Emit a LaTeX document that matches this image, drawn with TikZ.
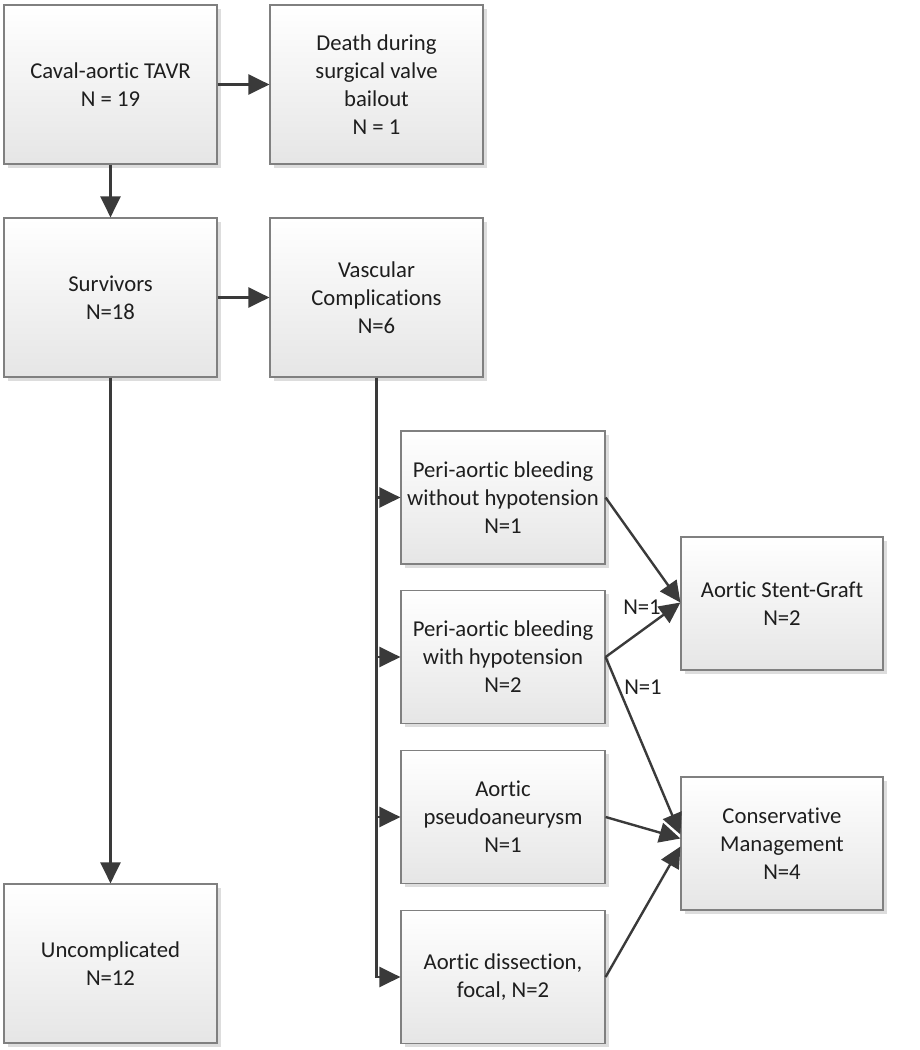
\documentclass[tikz,border=0pt]{standalone}
\usepackage{fontspec}
\setmainfont{Carlito}[Ligatures={NoCommon}]
\usetikzlibrary{arrows.meta,shadows,positioning}
\definecolor{txt}{HTML}{1E1E1E}
\definecolor{edge}{HTML}{808080}
\definecolor{arrc}{HTML}{3A3A3A}
\tikzset{
  box/.style={draw=edge, line width=1.2pt, top color=white, bottom color=black!10,
    drop shadow={shadow xshift=3.5pt, shadow yshift=-3.5pt, fill=black!22, opacity=0.6},
    align=center, text=txt, font=\fontsize{22.7}{28}\selectfont, inner sep=0pt},
  big/.style={box, minimum width=213pt, minimum height=159pt},
  sub/.style={box, minimum width=204pt, minimum height=133pt},
  res/.style={box, minimum width=202pt, minimum height=133pt},
  arr/.style={draw=arrc, line width=2.4pt, -{Triangle[length=21pt,width=20pt]}},
  lbl/.style={text=txt, font=\fontsize{22.7}{26}\selectfont, inner sep=0pt}
}
\begin{document}
\begin{tikzpicture}[x=1pt,y=-1pt]
\useasboundingbox (0,0) rectangle (919,1050);
\node[big] (b1) at (110.5,84.5) {Caval-aortic TAVR\\N = 19};
\node[big] (b2) at (376.5,84.5) {Death during\\surgical valve\\bailout\\N = 1};
\node[big] (b3) at (110.5,297.5) {Survivors\\N=18};
\node[big] (b4) at (376.5,297.5) {Vascular\\Complications\\N=6};
\node[big] (b5) at (110.5,963.5) {Uncomplicated\\N=12};
\node[sub] (sA) at (503,497.5) {Peri-aortic bleeding\\without hypotension\\N=1};
\node[sub] (sB) at (503,657) {Peri-aortic bleeding\\with hypotension\\N=2};
\node[sub] (sC) at (503,817) {Aortic\\pseudoaneurysm\\N=1};
\node[sub] (sD) at (503,977) {Aortic dissection,\\focal, N=2};
\node[res] (st) at (782,603.5) {Aortic Stent-Graft\\N=2};
\node[res] (cm) at (782,843.5) {Conservative\\Management\\N=4};

\draw[arr] (b1) -- (b2);
\draw[arr] (b1) -- (b3);
\draw[arr] (b3) -- (b4);
\draw[arr] (b3) -- (b5);
\draw[arr] (b4.south) |- (sD.west);
\draw[arr] (b4.south |- sA.west) -- (sA.west);
\draw[arr] (b4.south |- sB.west) -- (sB.west);
\draw[arr] (b4.south |- sC.west) -- (sC.west);
\draw[arr] (sA.east) -- ([yshift=1pt]st.west);
\draw[arr] (sB.east) -- ([yshift=1pt]st.west);
\draw[arr] (sB.east) -- ([yshift=9pt]cm.west);
\draw[arr] (sC.east) -- ([yshift=5pt]cm.west);
\draw[arr] (sD.east) -- ([yshift=-3pt]cm.west);
\node[lbl] (l1) at (642,607) {N=1};
\node[lbl] (l2) at (643,687) {N=1};
\end{tikzpicture}
\end{document}
